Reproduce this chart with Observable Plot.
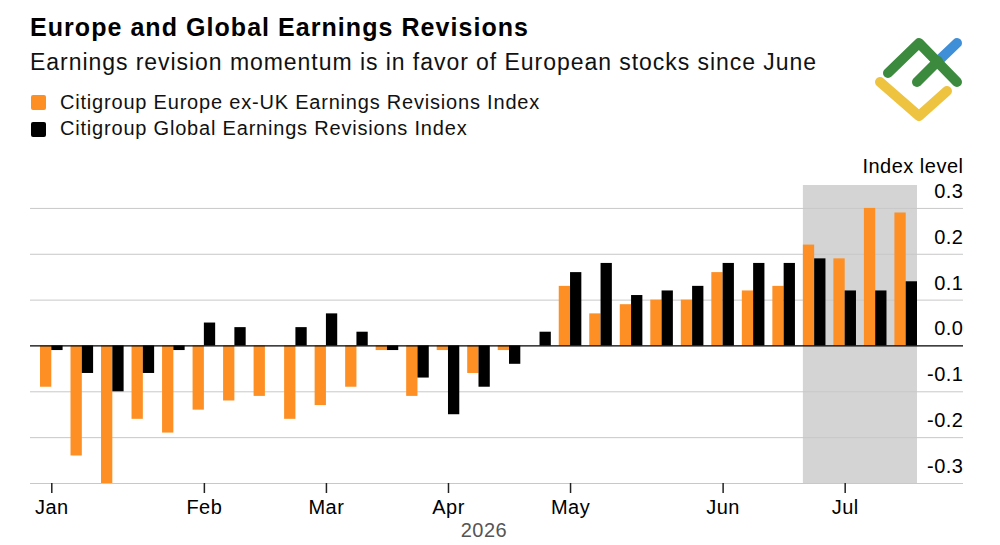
<!DOCTYPE html>
<html><head><meta charset="utf-8">
<script src="https://cdn.jsdelivr.net/npm/d3@7"></script>
<script src="https://cdn.jsdelivr.net/npm/@observablehq/plot@0.6"></script>
<style>
body{margin:0;background:#fff;font-family:"Liberation Sans",Arial,sans-serif;}
#wrap{position:relative;width:1000px;height:545px;overflow:hidden;background:#fff;}
.t{position:absolute;white-space:nowrap;color:#000;}
#title{left:30px;top:15px;font-size:25px;line-height:25px;font-weight:bold;letter-spacing:1.05px;}
#sub{left:30px;top:51px;font-size:23px;line-height:23px;color:#111;letter-spacing:0.95px;}
.leg{left:60px;font-size:20px;line-height:20px;color:#111;letter-spacing:0.8px;}
.sw{position:absolute;left:31px;width:15px;height:15px;border-radius:2px;}
#chart{position:absolute;left:0;top:150px;}
#logo{position:absolute;left:860px;top:30px;}
#chart svg text{letter-spacing:0.5px;}
</style></head>
<body>
<div id="wrap">
  <div id="title" class="t">Europe and Global Earnings Revisions</div>
  <div id="sub" class="t">Earnings revision momentum is in favor of European stocks since June</div>
  <div class="sw" id="sw1" style="top:95px"></div>
  <div class="t leg" id="leg1" style="top:92px"></div>
  <div class="sw" id="sw2" style="top:122px"></div>
  <div class="t leg" id="leg2" style="top:118px"></div>
  <svg id="logo" width="110" height="100" viewBox="0 0 110 100">
    <g fill="none" stroke-linecap="round" stroke-linejoin="round" stroke-width="10">
      <polyline points="20,52 59,86 87,61" stroke="#eec33f"/>
      <line x1="77" y1="32" x2="97" y2="13" stroke="#3f8fd8"/>
      <polyline points="28,43 59,13 97,52" stroke="#3b8a3d"/>
      <line x1="57" y1="52" x2="78" y2="31" stroke="#3b8a3d"/>
    </g>
  </svg>
  <div id="chart"></div>
</div>
<script>
// Weekly observation dates (Fridays, 2026)
const dates = [
  "2026-01-02","2026-01-09","2026-01-16","2026-01-23","2026-01-30",
  "2026-02-06","2026-02-13","2026-02-20","2026-02-27",
  "2026-03-06","2026-03-13","2026-03-20","2026-03-27",
  "2026-04-03","2026-04-10","2026-04-17","2026-04-24",
  "2026-05-01","2026-05-08","2026-05-15","2026-05-22","2026-05-29",
  "2026-06-05","2026-06-12","2026-06-19","2026-06-26",
  "2026-07-03","2026-07-10","2026-07-17"
];
const europe = [-0.09,-0.24,-0.30,-0.16,-0.19,-0.14,-0.12,-0.11,-0.16,-0.13,-0.09,-0.01,-0.11,-0.01,-0.06,-0.01,0.00,0.13,0.07,0.09,0.10,0.10,0.16,0.12,0.13,0.22,0.19,0.30,0.29];
const global = [-0.01,-0.06,-0.10,-0.06,-0.01,0.05,0.04,0.00,0.04,0.07,0.03,-0.01,-0.07,-0.15,-0.09,-0.04,0.03,0.16,0.18,0.11,0.12,0.13,0.18,0.18,0.18,0.19,0.12,0.12,0.14];
const seriesNames = ["Citigroup Europe ex-UK Earnings Revisions Index","Citigroup Global Earnings Revisions Index"];
const seriesColors = ["#fd8f24","#000000"];
const monthTicks = ["2026-01-02","2026-02-06","2026-03-06","2026-04-03","2026-05-01","2026-06-05","2026-07-03"];
const monthLabels = ["Jan","Feb","Mar","Apr","May","Jun","Jul"];
const yTicks = [-0.3,-0.2,-0.1,0,0.1,0.2,0.3];
const shadeDates = ["2026-06-26","2026-07-03","2026-07-10","2026-07-17"];
const yearLabel = "2026";
const yLabel = "Index level";

document.getElementById("sw1").style.background = seriesColors[0];
document.getElementById("sw2").style.background = seriesColors[1];
document.getElementById("leg1").textContent = seriesNames[0];
document.getElementById("leg2").textContent = seriesNames[1];

const rows = dates.map((d, i) => ({date: d, europe: europe[i], global: global[i]}));
const monthFmt = new Map(monthTicks.map((d, i) => [d, monthLabels[i]]));

const xRange = [40, 917];
const padInner = 0.26;
const step = (xRange[1] - xRange[0]) / (dates.length - padInner);
const bw = step * (1 - padInner);
const gap = step - bw;
const yTop = 0.35, yBot = -0.3;
const font = "Liberation Sans, Arial, sans-serif";

const chart = Plot.plot({
  width: 1000,
  height: 395,
  marginLeft: 30,
  marginRight: 37,
  marginTop: 35,
  marginBottom: 62,
  style: {fontFamily: font, fontSize: "20px", color: "#000", background: "#fff"},
  x: {type: "band", domain: dates, range: xRange, paddingInner: padInner, paddingOuter: 0, round: false, axis: null},
  y: {domain: [yBot, yTop], axis: null},
  marks: [
    Plot.barY(shadeDates.slice(0, -1), {x: d => d, y1: yBot, y2: yTop, fill: "#d4d4d4", insetRight: -(gap + 1)}),
    Plot.barY(shadeDates.slice(-1), {x: d => d, y1: yBot, y2: yTop, fill: "#d4d4d4"}),
    Plot.gridY(yTicks.filter(d => d !== 0), {stroke: "#c8c8c8", strokeOpacity: 1, strokeWidth: 1}),
    Plot.barY(rows, {x: "date", y: "europe", fill: seriesColors[0], insetRight: bw / 2}),
    Plot.barY(rows, {x: "date", y: "global", fill: seriesColors[1], insetLeft: bw / 2}),
    Plot.ruleY([0], {stroke: "#000", strokeWidth: 1.2}),
    Plot.axisY(yTicks, {anchor: "right", tickSize: 0, tickPadding: 0, textAnchor: "end", dy: -17,
      tickFormat: d => d.toFixed(1), fontSize: 20, fill: "#000", label: null}),
    Plot.axisX(monthTicks, {anchor: "bottom", tickSize: 10, tickPadding: 6, stroke: "#222", strokeWidth: 1.5,
      tickFormat: d => monthFmt.get(d), fontSize: 20, fill: "#000", label: null}),
    Plot.text([yLabel], {frameAnchor: "top-right", lineAnchor: "middle", dy: -19, textAnchor: "end", fontSize: 20, fill: "#000"}),
    Plot.text([yearLabel], {frameAnchor: "bottom", lineAnchor: "middle", dx: -13, dy: 47, fontSize: 20, fill: "#555"})
  ]
});
document.getElementById("chart").appendChild(chart);
</script>
</body></html>
